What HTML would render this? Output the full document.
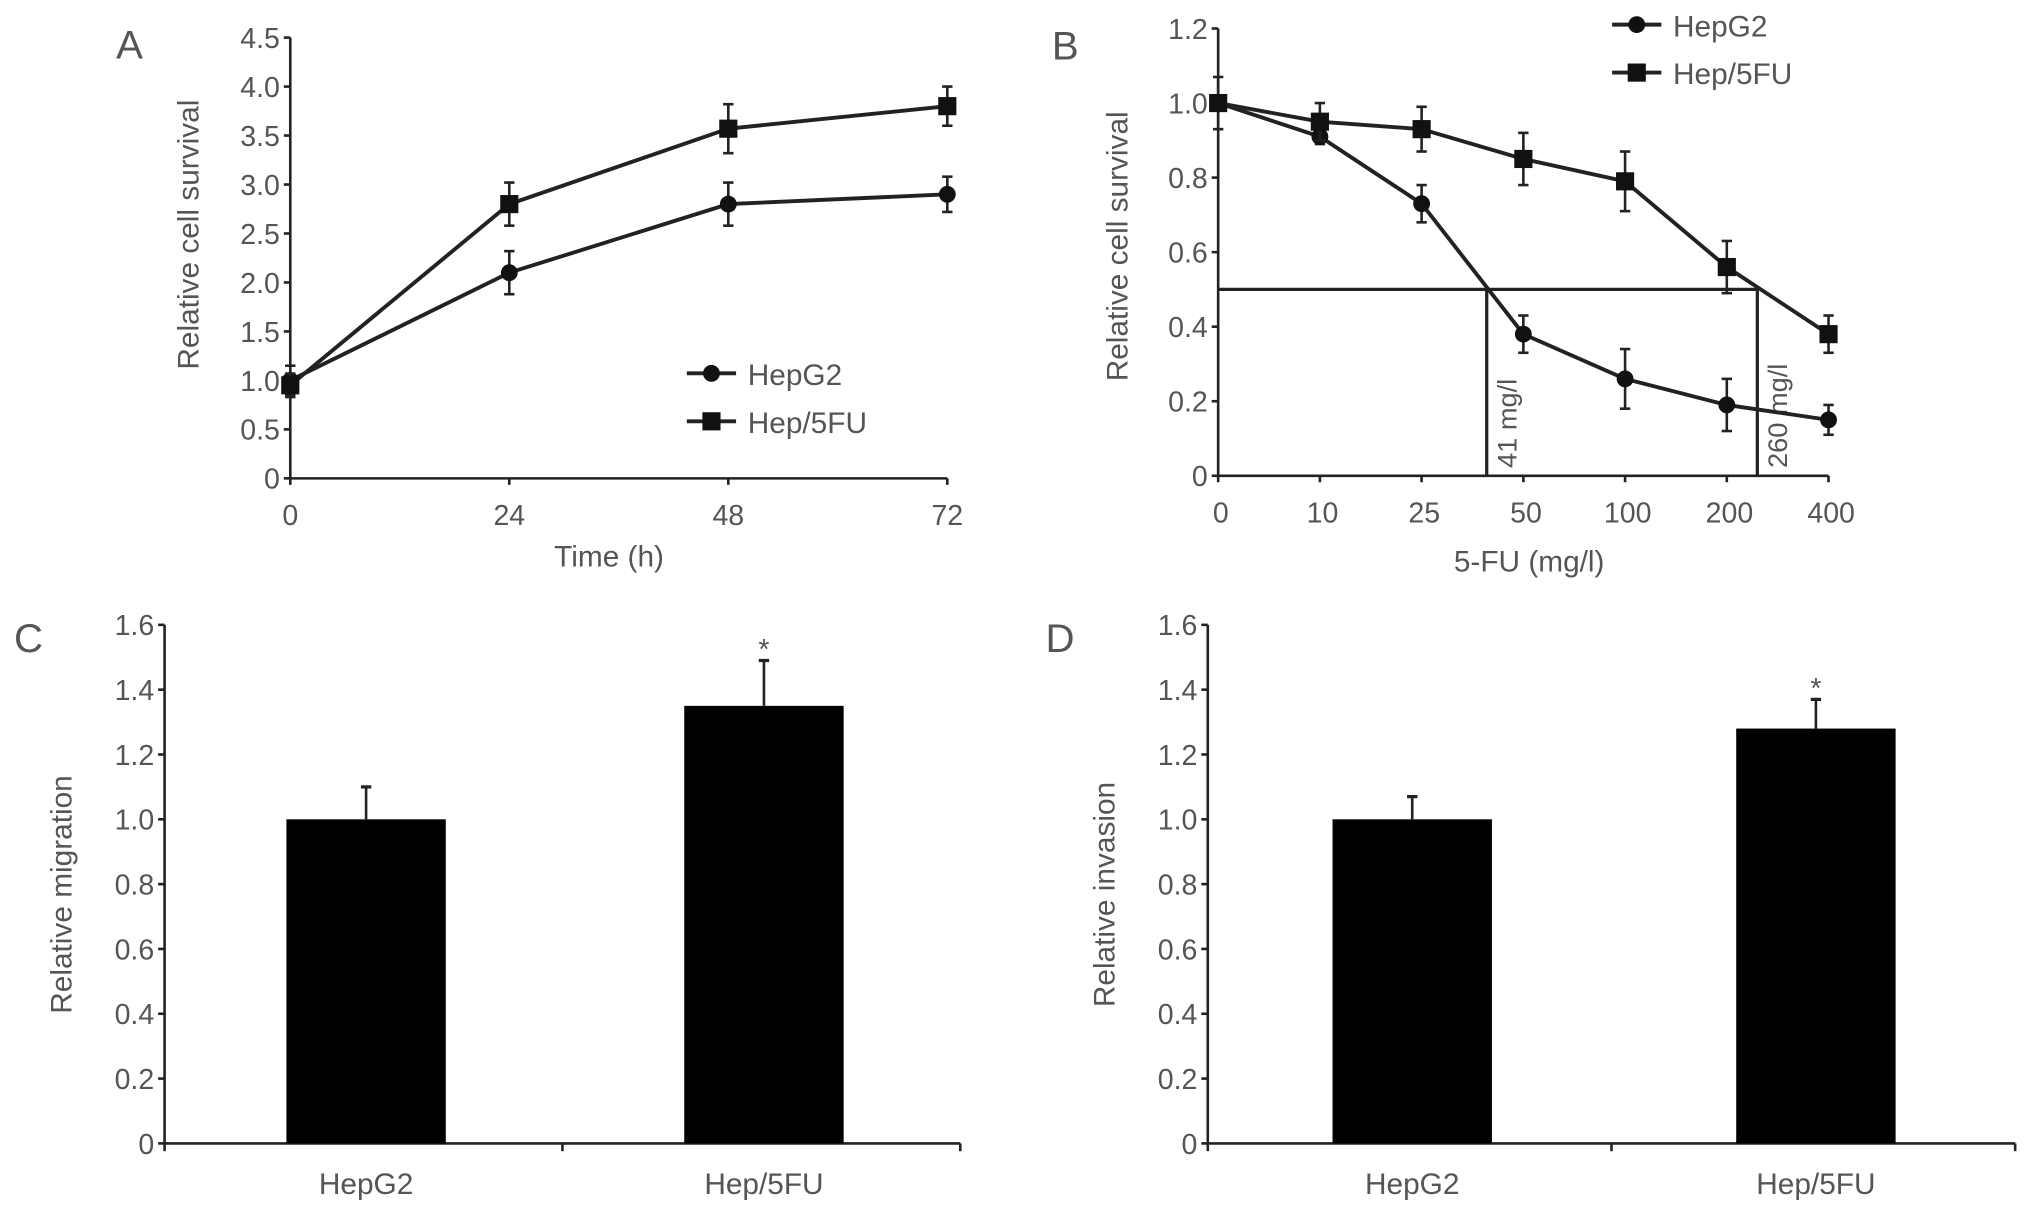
<!DOCTYPE html>
<html><head><meta charset="utf-8"><style>
html,body{margin:0;padding:0;background:#fff;}
svg{display:block;}
text{font-family:"Liberation Sans",sans-serif;}
</style></head><body>
<svg id="fig" width="2032" height="1216" viewBox="0 0 1568 938" preserveAspectRatio="none" xmlns="http://www.w3.org/2000/svg"></svg>
<script>
// Panel A data
const aTimes = [0, 24, 48, 72];
const aHepG2 = [1.0, 2.1, 2.8, 2.9];
const aHepG2Err = [0.15, 0.22, 0.22, 0.18];
const aHep5FU = [0.95, 2.8, 3.57, 3.8];
const aHep5FUErr = [0.12, 0.22, 0.25, 0.2];
const aYTicks = [0, 0.5, 1.0, 1.5, 2.0, 2.5, 3.0, 3.5, 4.0, 4.5];
const aYTickLabels = ["0", "0.5", "1.0", "1.5", "2.0", "2.5", "3.0", "3.5", "4.0", "4.5"];
// Panel B data
const bCats = ["0", "10", "25", "50", "100", "200", "400"];
const bHepG2 = [1.0, 0.91, 0.73, 0.38, 0.26, 0.19, 0.15];
const bHepG2Err = [0.07, 0.02, 0.05, 0.05, 0.08, 0.07, 0.04];
const bHep5FU = [1.0, 0.95, 0.93, 0.85, 0.79, 0.56, 0.38];
const bHep5FUErr = [0.02, 0.05, 0.06, 0.07, 0.08, 0.07, 0.05];
const bYTicks = [0, 0.2, 0.4, 0.6, 0.8, 1.0, 1.2];
const bYTickLabels = ["0", "0.2", "0.4", "0.6", "0.8", "1.0", "1.2"];
const bIC50Level = 0.5;
const bIC50Pos = [2.64, 5.3]; // category-index positions of the IC50 drop lines
const bIC50Labels = ["41 mg/l", "260 mg/l"];
// Panels C/D data
const barCats = ["HepG2", "Hep/5FU"];
const cVals = [1.0, 1.35];
const cErr = [0.1, 0.14];
const dVals = [1.0, 1.28];
const dErr = [0.07, 0.09];
const barYTicks = [0, 0.2, 0.4, 0.6, 0.8, 1.0, 1.2, 1.4, 1.6];
const barYTickLabels = ["0", "0.2", "0.4", "0.6", "0.8", "1.0", "1.2", "1.4", "1.6"];

const NS = "http://www.w3.org/2000/svg";
const svg = document.getElementById("fig");
function mk(tag, attrs, parent, txt) {
  const e = document.createElementNS(NS, tag);
  for (const k in attrs) e.setAttribute(k, attrs[k]);
  if (txt !== undefined) e.textContent = txt;
  (parent || svg).appendChild(e);
  return e;
}
const TICK = "#555";
const TF = 22, TT = 23, LF = 31;

function yAxis(g, x, y0, y1, vmax, ticks, labels, name) {
  const sy = v => y0 - (v / vmax) * (y0 - y1);
  const ax = mk("line", {x1: x, y1: y0, x2: x, y2: y1, stroke: "#222", "stroke-width": 2}, g);
  
  
  ticks.forEach((t, i) => {
    mk("line", {x1: x - 5, y1: sy(t), x2: x, y2: sy(t), stroke: "#222", "stroke-width": 2}, g);
    const tl = mk("text", {x: x - 8, y: sy(t) + 8, "text-anchor": "end", "font-size": TF, fill: TICK}, g, labels[i]);
    
    
  });
  return sy;
}
function label(g, txt, x, y, size, name, rot, anchor) {
  const t = mk("text", {x: x, y: y, "font-size": size, fill: TICK, "text-anchor": anchor || "middle"}, g, txt);
  if (rot) t.setAttribute("transform", `rotate(-90 ${x} ${y})`);
  
  
  return t;
}
function marker(g, x, y, type) {
  if (type === "circle") mk("circle", {cx: x, cy: y, r: 6.5, fill: "#111"}, g);
  else mk("rect", {x: x - 7, y: y - 7, width: 14, height: 14, fill: "#111"}, g);
}
function errBar(g, x, y1, y2) {
  mk("line", {x1: x, y1: y1, x2: x, y2: y2, stroke: "#222", "stroke-width": 2}, g);
  mk("line", {x1: x - 4, y1: y1, x2: x + 4, y2: y1, stroke: "#222", "stroke-width": 2}, g);
  mk("line", {x1: x - 4, y1: y2, x2: x + 4, y2: y2, stroke: "#222", "stroke-width": 2}, g);
}
function series(g, xs, vals, errs, sy, type, name) {
  const s = mk("g", {}, g);
  
  
  mk("polyline", {points: xs.map((x, i) => x + "," + sy(vals[i])).join(" "), fill: "none", stroke: "#222", "stroke-width": 3}, s);
  xs.forEach((x, i) => { errBar(s, x, sy(vals[i] + errs[i]), sy(vals[i] - errs[i])); marker(s, x, sy(vals[i]), type); });
}
function legend(g, x, y, txt, type, name) {
  const lg = mk("g", {}, g);
  
  
  mk("line", {x1: x, y1: y, x2: x + 38, y2: y, stroke: "#222", "stroke-width": 3}, lg);
  marker(lg, x + 19, y, type);
  label(lg, txt, x + 47, y + 9, TT, name + '-text', false, "start");
}

// ---- Panel A
(function () {
  const g = mk("g", {});  
  const X0 = 224, X1 = 731, Y0 = 369, Y1 = 29;
  const sx = t => X0 + (t / 72) * (X1 - X0);
  const sy = yAxis(g, X0, Y0, Y1, 4.5, aYTicks, aYTickLabels, 'panel-a');
  mk("line", {x1: X0, y1: Y0, x2: X1, y2: Y0, stroke: "#222", "stroke-width": 2}, g);
  aTimes.forEach(t => {
    mk("line", {x1: sx(t), y1: Y0, x2: sx(t), y2: Y0 + 5, stroke: "#222", "stroke-width": 2}, g);
    label(g, String(t), sx(t), Y0 + 36, TF, 'panel-a-x-tick-label');
  });
  label(g, "Time (h)", 470, 437, TT, 'panel-a-x-axis-title');
  label(g, "Relative cell survival", 153, 181, TT, 'panel-a-y-axis-title', true);
  label(g, "A", 100, 45, LF, 'panel-a-letter');
  const xs = aTimes.map(sx);
  series(g, xs, aHepG2, aHepG2Err, sy, "circle", 'panel-a-series-hepg2');
  series(g, xs, aHep5FU, aHep5FUErr, sy, "square", 'panel-a-series-hep5fu');
  legend(g, 530, 288, "HepG2", "circle", 'panel-a-legend-hepg2');
  legend(g, 530, 325, "Hep/5FU", "square", 'panel-a-legend-hep5fu');
})();

// ---- Panel B
(function () {
  const g = mk("g", {});  
  const X0 = 940, STEP = 78.5, Y0 = 367, Y1 = 22;
  const sx = i => X0 + i * STEP;
  const sy = yAxis(g, X0, Y0, Y1, 1.2, bYTicks, bYTickLabels, 'panel-b');
  mk("line", {x1: X0, y1: Y0, x2: sx(bCats.length - 1), y2: Y0, stroke: "#222", "stroke-width": 2}, g);
  bCats.forEach((c, i) => {
    mk("line", {x1: sx(i), y1: Y0, x2: sx(i), y2: Y0 + 5, stroke: "#222", "stroke-width": 2}, g);
    label(g, c, sx(i) + 2, Y0 + 36, TF, 'panel-b-x-tick-label');
  });
  label(g, "5-FU (mg/l)", 1180, 441, TT, 'panel-b-x-axis-title');
  label(g, "Relative cell survival", 870, 190, TT, 'panel-b-y-axis-title', true);
  label(g, "B", 822, 46, LF, 'panel-b-letter');
  const yl = sy(bIC50Level);
  const ic = mk("g", {}, g);  
  mk("line", {x1: X0, y1: yl, x2: sx(bIC50Pos[1]), y2: yl, stroke: "#222", "stroke-width": 2.5}, ic);
  bIC50Pos.forEach((p, i) => {
    mk("line", {x1: sx(p), y1: yl, x2: sx(p), y2: Y0, stroke: "#222", "stroke-width": 2.5}, ic);
    label(ic, bIC50Labels[i], sx(p) + 23, Y0 - 6, 21, 'panel-b-ic50-label', true, "start");
  });
  const xs = bCats.map((c, i) => sx(i));
  series(g, xs, bHepG2, bHepG2Err, sy, "circle", 'panel-b-series-hepg2');
  series(g, xs, bHep5FU, bHep5FUErr, sy, "square", 'panel-b-series-hep5fu');
  legend(g, 1244, 19, "HepG2", "circle", 'panel-b-legend-hepg2');
  legend(g, 1244, 56, "Hep/5FU", "square", 'panel-b-legend-hep5fu');
})();

// ---- Panels C and D
function barPanel(name, letter, X0, X1, vals, errs, ytitle, letterX, titleX) {
  const g = mk("g", {});  
  const Y0 = 882, Y1 = 482;
  const sy = yAxis(g, X0, Y0, Y1, 1.6, barYTicks, barYTickLabels, name);
  mk("line", {x1: X0, y1: Y0, x2: X1, y2: Y0, stroke: "#222", "stroke-width": 2}, g);
  const W = (X1 - X0) / barCats.length;
  [0, 1, 2].forEach(i => mk("line", {x1: X0 + i * W, y1: Y0, x2: X0 + i * W, y2: Y0 + 6, stroke: "#222", "stroke-width": 2}, g));
  barCats.forEach((c, i) => {
    const cx = X0 + (i + 0.5) * W + 2, bw = 123;
    const b = mk("rect", {x: cx - bw / 2, y: sy(vals[i]), width: bw, height: Y0 - sy(vals[i]), fill: "#000"}, g);
    
    
    mk("line", {x1: cx, y1: sy(vals[i] + errs[i]), x2: cx, y2: sy(vals[i]), stroke: "#222", "stroke-width": 2}, g);
    mk("line", {x1: cx - 4, y1: sy(vals[i] + errs[i]), x2: cx + 4, y2: sy(vals[i] + errs[i]), stroke: "#222", "stroke-width": 2.5}, g);
    label(g, c, cx, 921, TT, name + '-x-tick-label');
    if (i === 1) label(g, "*", cx, sy(vals[i] + errs[i]) - 1, 22, name + '-significance-star');
  });
  label(g, ytitle, titleX, 690, TT, name + '-y-axis-title', true);
  label(g, letter, letterX, 503, LF, name + '-letter');
}
barPanel('panel-c', "C", 127, 741, cVals, cErr, "Relative migration", 22, 55);
barPanel('panel-d', "D", 932, 1555, dVals, dErr, "Relative invasion", 818, 860);
</script>
</body></html>
